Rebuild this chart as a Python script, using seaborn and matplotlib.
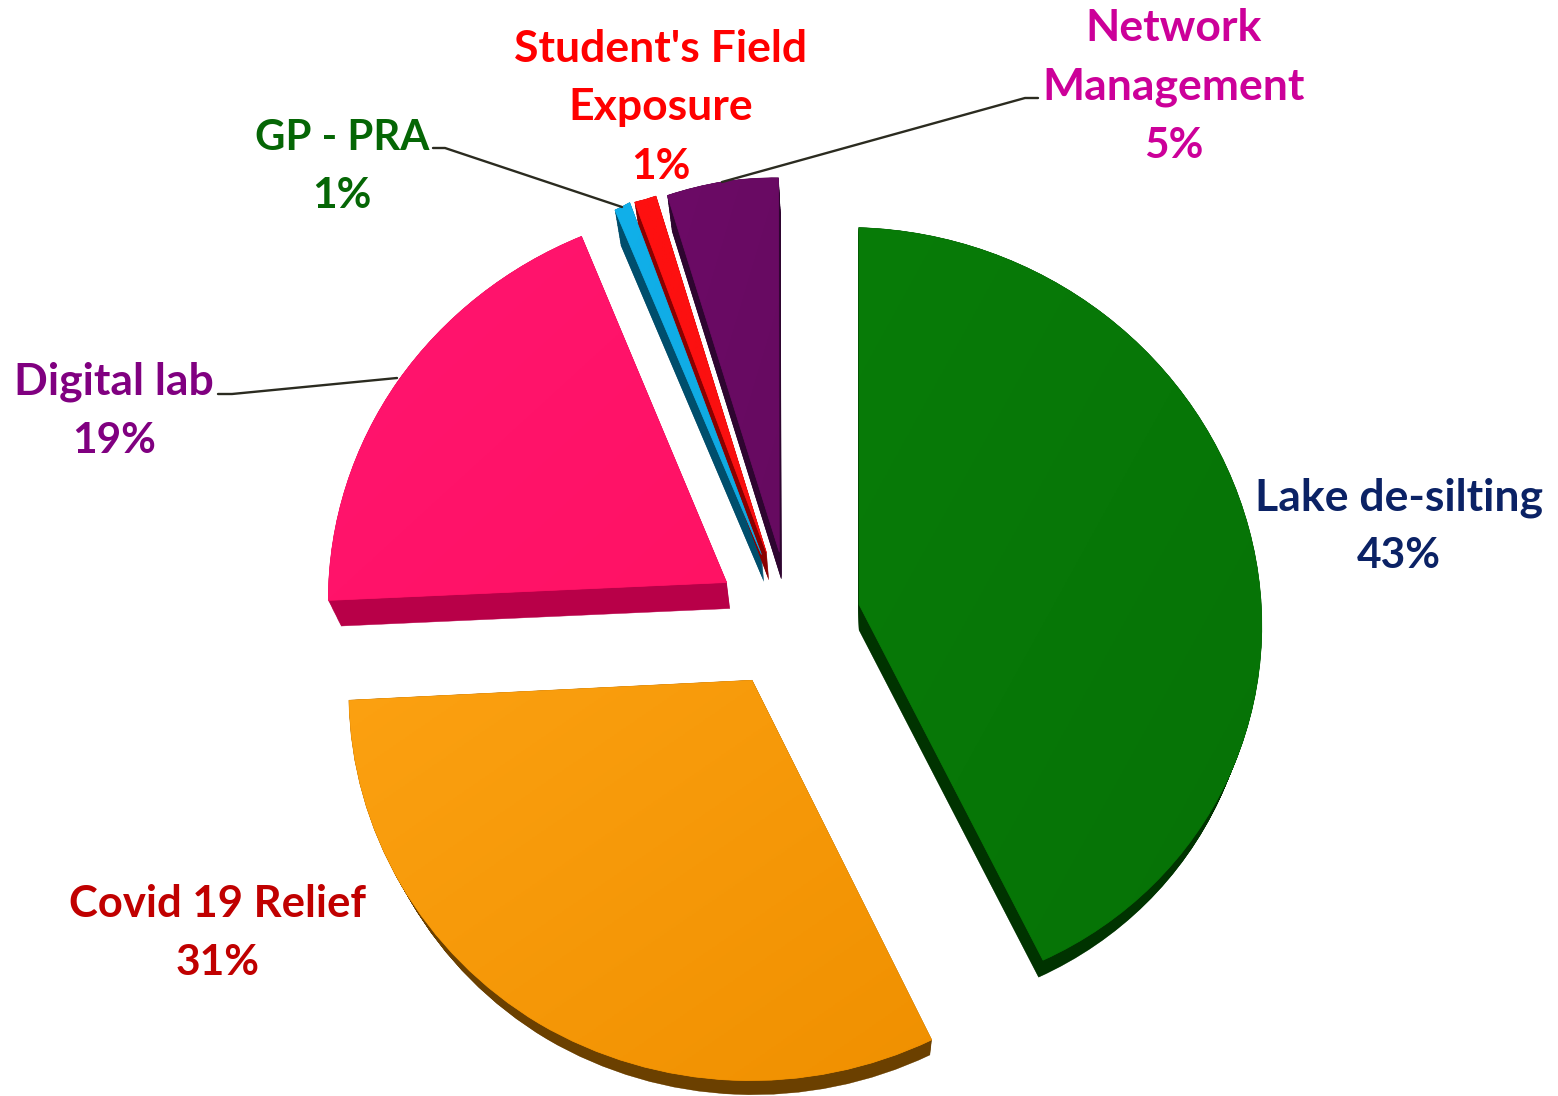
import numpy as np
import pandas as pd
import seaborn as sns
import matplotlib
matplotlib.use('Agg')
import matplotlib.pyplot as plt
from matplotlib.colors import LinearSegmentedColormap
from matplotlib.patches import Polygon
from matplotlib.transforms import Affine2D

LABELS = ["Lake de-silting", "Covid 19 Relief", "Digital lab", "GP - PRA", "Student's Field\nExposure", "Network\nManagement"]
SHARES = [43, 31, 19, 1, 1, 5]
TOP_LIGHT = ["#087C08", "#FCA111", "#FF1470", "#10B0EA", "#FF1010", "#6C0B66"]
TOP_DARK = ["#067206", "#F09000", "#FF1264", "#10A8E0", "#F81010", "#660A60"]
WALL = ["#003300", "#6B4000", "#B80048", "#004E6C", "#8A0000", "#2E0530"]
TEXT_COL = ["#0B2265", "#C00000", "#800080", "#056605", "#FF0000", "#CC0099"]
EXPLODE = 0.175

# pixel x centre and first baseline of each label
LABEL_X = [1399, 218, 114, 342, 661, 1174]
LABEL_BASE = [510, 917, 395, 150, 62, 41]
LABEL_SIZE = [32, 31.4, 32, 30.2, 32, 32]
PCT_SIZE = 30.5
LINE_STEP = 58.4

LEADERS = [
    ([218, 232, 397], [394, 394, 378]),
    ([433, 445, 622], [148, 148, 207]),
    ([722, 1025, 1038], [182, 98, 98]),
]

# the pie lies tilted in 3D: projective map from the flat pie to pixels
TILT = np.array([
    [407.128, 29.556, 793.579],
    [12.007, -368.456, 618.128],
    [0.00768, 0.03222, 1.0],
])
VANISH = (860, 1667)
DEPTH = 0.024

# small per slice corrections in pixels: tip, then arc start / middle / end
NUDGE_TIP = [(-3, 0), (-5, 4), (-7, 0), (-5, -1), (-4, -1), (-4, 1)]
NUDGE_ARC = [
    [(8, -7), (2, 0), (-5, -2)],
    [(-1, 6), (-1, 2), (3, -4)],
    [(9, -2), (3, 0), (-1, 1)],
    [(2, -2), (6, -2), (10, -3)],
    [(1, 0), (2, 0), (3, -1)],
    [(-9, -1), (-4, 0), (0, 2)],
]


def tilt(points):
    pts = np.column_stack([points, np.ones(len(points))]) @ TILT.T
    return pts[:, :2] / pts[:, 2:]


def slice_outline(wedge, tip, arc):
    poly = wedge.get_path().to_polygons(Affine2D().scale(400))[0] / 400
    rel = poly - np.array(wedge.center)
    r = np.clip(np.hypot(rel[:, 0], rel[:, 1]), 0, 1)
    span = wedge.theta2 - wedge.theta1
    ang = np.degrees(np.arctan2(rel[:, 1], rel[:, 0]))
    f = np.clip(((ang - wedge.theta1 + 1) % 360 - 1) / span, 0, 1)
    arc = np.array(arc, dtype=float)
    dx = np.interp(f, [0, 0.5, 1], arc[:, 0])
    dy = np.interp(f, [0, 0.5, 1], arc[:, 1])
    shift = np.column_stack([dx, dy]) * r[:, None] + np.array(tip) * (1 - r[:, None])
    return tilt(poly) + shift


sns.set_theme(style="white")
plt.rcParams['font.family'] = ['Lato', 'DejaVu Sans']

fig = plt.figure(figsize=(15.58, 10.96), dpi=100)
ax = fig.add_axes([0, 0, 1, 1])

df = pd.DataFrame({"label": LABELS, "share": SHARES})
wedges, _ = ax.pie(df["share"], explode=[EXPLODE] * len(df), startangle=90, counterclock=False,
                   colors=sns.color_palette(TOP_DARK))

faces = []
for i, w in enumerate(wedges):
    w.set_visible(False)
    faces.append(slice_outline(w, NUDGE_TIP[i], NUDGE_ARC[i]))

vp = np.array(VANISH)
for face, col in zip(faces, WALL):
    for t in np.linspace(DEPTH, 0, 24):
        ax.add_patch(Polygon(face + t * (vp - face), closed=True, fc=col, ec=col, lw=0.3, zorder=2))

grad = np.linspace(0, 1, 256)
grad = grad[None, :] + grad[:, None]
for face, light, dark in zip(faces, TOP_LIGHT, TOP_DARK):
    ax.add_patch(Polygon(face, closed=True, fc=dark, ec=dark, lw=0.5, zorder=3))
    x0, y0 = face.min(axis=0)
    x1, y1 = face.max(axis=0)
    cmap = LinearSegmentedColormap.from_list("shade", [light, dark])
    im = ax.imshow(grad, extent=(x0, x1, y1, y0), cmap=cmap, aspect="auto", zorder=4)
    im.set_clip_path(Polygon(face, closed=True, transform=ax.transData))

for xs, ys in LEADERS:
    ax.plot(xs, ys, color="#2B2B20", lw=1.7, zorder=5)

for i, row in df.iterrows():
    lines = row["label"].split("\n")
    for j, line in enumerate(lines):
        ax.text(LABEL_X[i], LABEL_BASE[i] + j * LINE_STEP, line, ha="center", va="baseline",
                color=TEXT_COL[i], fontsize=LABEL_SIZE[i], fontweight="bold", zorder=6)
    ax.text(LABEL_X[i], LABEL_BASE[i] + len(lines) * LINE_STEP, f"{row['share']}%", ha="center", va="baseline",
            color=TEXT_COL[i], fontsize=PCT_SIZE, fontweight="bold", zorder=6)

ax.set_xlim(0, 1558)
ax.set_ylim(1096, 0)
ax.set_aspect("auto")
ax.axis("off")

fig.savefig("out.png", dpi=100)
